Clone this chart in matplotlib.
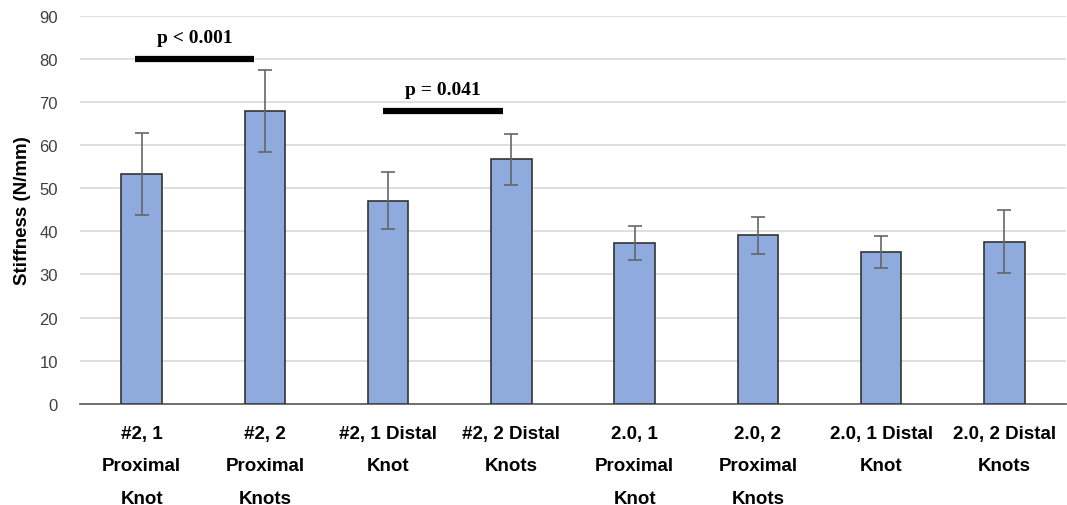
import matplotlib.pyplot as plt

categories = ["#2, 1\nProximal\nKnot", "#2, 2\nProximal\nKnots", "#2, 1 Distal\nKnot",
              "#2, 2 Distal\nKnots", "2.0, 1\nProximal\nKnot", "2.0, 2\nProximal\nKnots",
              "2.0, 1 Distal\nKnot", "2.0, 2 Distal\nKnots"]
stiffness = [53.2, 67.8, 47.1, 56.7, 37.3, 39.1, 35.3, 37.6]
sd = [9.5, 9.5, 6.6, 5.9, 3.9, 4.3, 3.7, 7.3]

# significance brackets: (x start, x end, y, label)
sig_x1 = [-0.05, 1.96]
sig_x2 = [0.91, 2.93]
sig_y = [80.0, 67.8]
sig_text = ["p < 0.001", "p = 0.041"]

plt.rcParams['font.family'] = ['Liberation Sans', 'DejaVu Sans']

fig, ax = plt.subplots(figsize=(10.67, 5.06), dpi=100)
fig.subplots_adjust(left=0.075, right=0.999, top=0.967, bottom=0.2)

x = range(len(categories))
ax.bar(x, stiffness, width=0.33, color='#8faadc', edgecolor='#333333', linewidth=1.2, zorder=3)
ax.errorbar(x, stiffness, yerr=sd, fmt='none', ecolor='#666666', elinewidth=1.2,
            capsize=5, capthick=1.2, zorder=4)

for x1, x2, y, t in zip(sig_x1, sig_x2, sig_y, sig_text):
    ax.plot([x1, x2], [y, y], color='black', linewidth=4.5, solid_capstyle='butt', zorder=5)
    ax.text((x1 + x2) / 2, y + 3.0, t, ha='center', va='bottom', fontsize=14,
            fontweight='bold', family=['Liberation Serif'])

ax.set_xlim(-0.5, 7.5)
ax.set_ylim(0, 90)
ax.set_yticks(range(0, 91, 10))
ax.yaxis.grid(True, color='#d9d9d9', linewidth=1.2, zorder=0)
ax.set_axisbelow(True)
for s in ['top', 'right', 'left']:
    ax.spines[s].set_visible(False)
ax.spines['bottom'].set_color('#595959')
ax.spines['bottom'].set_linewidth(1.2)
ax.tick_params(axis='y', length=0, labelsize=12, labelcolor='#404040', pad=16)
ax.tick_params(axis='x', length=0, pad=15)
ax.set_xticks(list(x))
ax.set_xticklabels(categories, fontsize=13.5, fontweight='bold', linespacing=2.2)
ax.set_ylabel('Stiffness (N/mm)', fontsize=13.5, fontweight='bold', labelpad=6)

plt.savefig('out.png', dpi=100)
